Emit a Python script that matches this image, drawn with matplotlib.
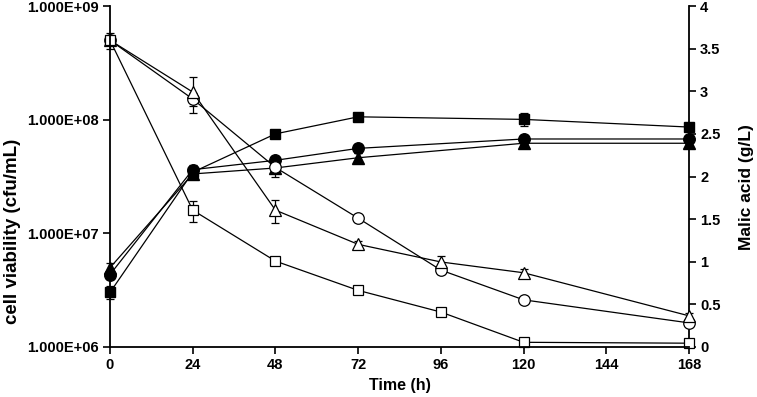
import matplotlib
matplotlib.use("Agg")
import matplotlib.pyplot as plt
from matplotlib.ticker import FixedLocator, FuncFormatter, NullLocator

plt.rcParams['font.family'] = ['Liberation Sans', 'DejaVu Sans']
plt.rcParams['font.weight'] = 'bold'

time_open = [0, 24, 48, 72, 96, 120, 168]
time_filled = [0, 24, 48, 72, 120, 168]

via_circle = [5.0e8, 1.52e8, 3.8e7, 1.36e7, 4.75e6, 2.6e6, 1.63e6]
via_circle_err = [0.5e8, 0.2e8, 0.2e7, 0.1e7, 0.4e6, 0.15e6, 0.1e6]
via_triangle = [5.0e8, 1.75e8, 1.6e7, 8.0e6, 5.6e6, 4.5e6, 1.88e6]
via_triangle_err = [0.8e8, 0.6e8, 0.37e7, 0.6e6, 0.7e6, 0.4e6, 0.1e6]
via_square = [5.0e8, 1.6e7, 5.7e6, 3.15e6, 2.03e6, 1.1e6, 1.08e6]
via_square_err = [0.3e8, 0.33e7, 0.4e6, 0.2e6, 0.15e6, 0.05e6, 0.02e6]

mal_square = [0.64, 2.05, 2.50, 2.70, 2.67, 2.58]
mal_square_err = [0.08, 0.05, 0.05, 0.03, 0.08, 0.05]
mal_circle = [0.85, 2.08, 2.19, 2.33, 2.44, 2.44]
mal_circle_err = [0.05, 0.05, 0.05, 0.05, 0.05, 0.03]
mal_triangle = [0.93, 2.03, 2.10, 2.22, 2.39, 2.39]
mal_triangle_err = [0.05, 0.05, 0.1, 0.05, 0.03, 0.03]

left_ticks = [1e6, 1e7, 1e8, 1e9]
right_ticks = [0, 0.5, 1, 1.5, 2, 2.5, 3, 3.5, 4]
x_ticks = [0, 24, 48, 72, 96, 120, 144, 168]

fig = plt.figure(figsize=(7.57, 3.97), dpi=100)
ax = fig.add_axes([110/757, 1-347/397, 579/757, 341/397])
ax2 = ax.twinx()

ekw = dict(color='black', lw=0.9, elinewidth=0.9, capsize=3, capthick=0.9)

containers = []
# filled markers on right axis
containers.append(ax2.errorbar(time_filled, mal_square, yerr=mal_square_err, marker='s', ms=7.8, mfc='black', mec='black', **ekw))
containers.append(ax2.errorbar(time_filled, mal_circle, yerr=mal_circle_err, marker='o', ms=8.3, mfc='black', mec='black', **ekw))
containers.append(ax2.errorbar(time_filled, mal_triangle, yerr=mal_triangle_err, marker='^', ms=8.3, mfc='black', mec='black', **ekw))

# open markers on left axis
containers.append(ax.errorbar(time_open, via_circle, yerr=via_circle_err, marker='o', ms=8.3, mfc='white', mec='black', mew=0.9, **ekw))
containers.append(ax.errorbar(time_open, via_triangle, yerr=via_triangle_err, marker='^', ms=8.3, mfc='white', mec='black', mew=0.9, **ekw))
containers.append(ax.errorbar(time_open, via_square, yerr=via_square_err, marker='s', ms=7.8, mfc='white', mec='black', mew=0.9, **ekw))

for c in containers:
    for ch in c.get_children():
        ch.set_clip_on(False)

ax.set_zorder(ax2.get_zorder() + 1)
ax.patch.set_visible(False)

ax.set_yscale('log')
ax.set_ylim(1e6, 1e9)
ax.yaxis.set_major_locator(FixedLocator(left_ticks))
ax.yaxis.set_minor_locator(NullLocator())
ax.yaxis.set_major_formatter(FuncFormatter(lambda v, p: f"{v:.3E}"))
ax2.set_ylim(0, 4)
ax2.yaxis.set_major_locator(FixedLocator(right_ticks))
ax2.yaxis.set_major_formatter(FuncFormatter(lambda v, p: f"{v:g}"))
ax.set_xlim(0, 168)
ax.xaxis.set_major_locator(FixedLocator(x_ticks))

for a in (ax, ax2):
    a.spines['top'].set_visible(False)
    for s in ('left', 'right', 'bottom'):
        a.spines[s].set_linewidth(1.3)
    a.tick_params(axis='both', direction='out', length=5, width=1.2, labelsize=10.5, pad=3)
    for lab in a.get_xticklabels() + a.get_yticklabels():
        lab.set_fontweight('bold')
ax.spines['right'].set_visible(False)
ax2.spines['left'].set_visible(False)
ax2.spines['bottom'].set_visible(False)

ax.set_xlabel('Time (h)', fontsize=11.5, fontweight='bold', labelpad=4)
ax.set_ylabel('cell viability (cfu/mL)', fontsize=13.5, fontweight='bold')
ax.yaxis.set_label_coords(-0.154, 0.34)
ax2.set_ylabel('Malic acid (g/L)', fontsize=12.5, fontweight='bold')
ax2.yaxis.set_label_coords(1.086, 0.468)

fig.savefig('out.png', dpi=100)
